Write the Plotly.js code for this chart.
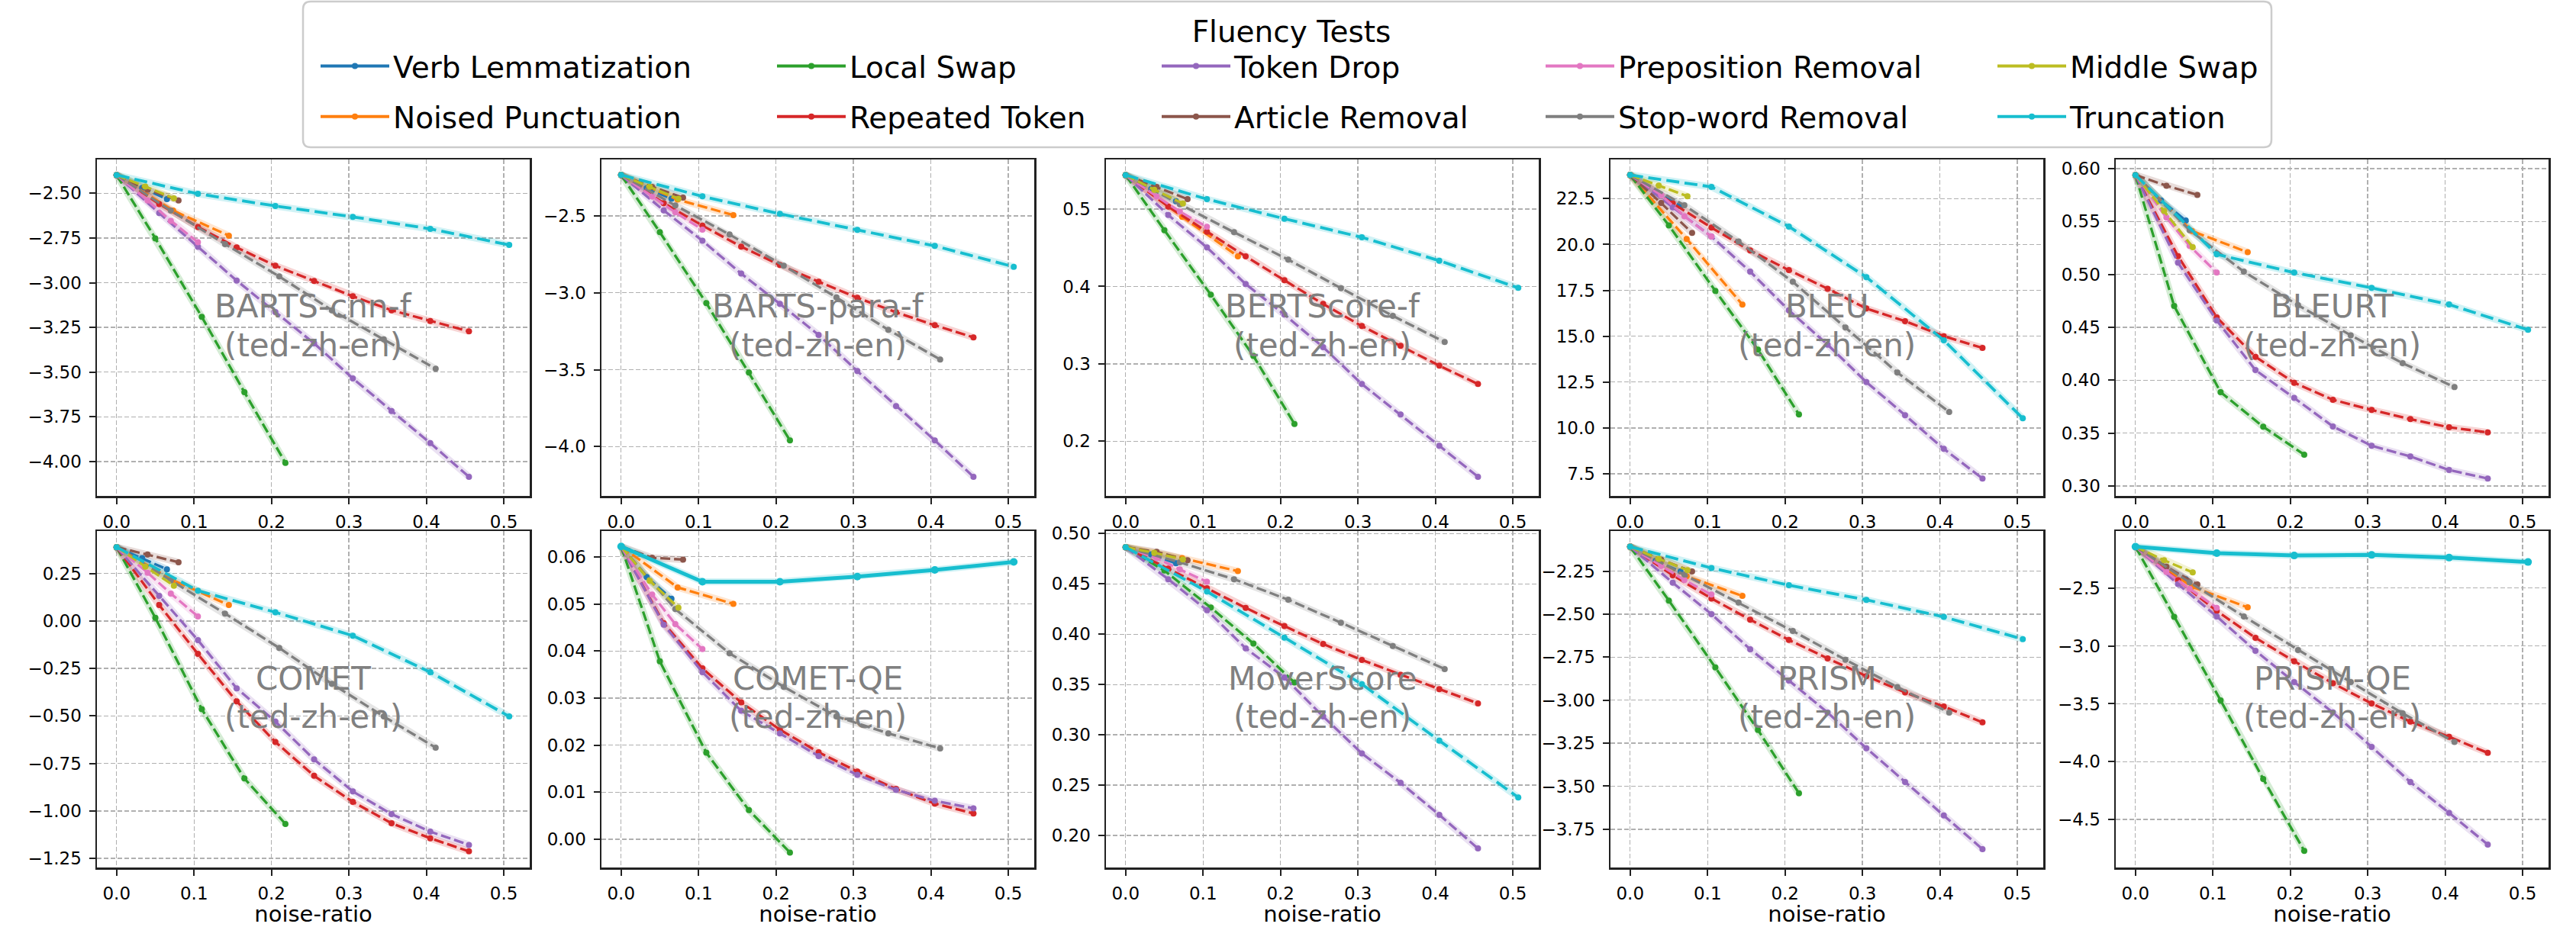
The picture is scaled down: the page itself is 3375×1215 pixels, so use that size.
<!DOCTYPE html>
<html>
<head>
<meta charset="utf-8">
<script src="https://cdn.plot.ly/plotly-3.0.1.min.js"></script>
<style>
html, body { margin: 0; padding: 0; background: #ffffff; }
#chart { width: 3375px; height: 1215px; }
</style>
</head>
<body>
<div id="chart"></div>
<script>
// ---------------- DATA ----------------
const metrics = ['BARTS-cnn-f', 'BARTS-para-f', 'BERTScore-f', 'BLEU', 'BLEURT',
                 'COMET', 'COMET-QE', 'MoverScore', 'PRISM', 'PRISM-QE'];
const datasetLabel = '(ted-zh-en)';
const legendTitle = 'Fluency Tests';
const xAxisLabel = 'noise-ratio';

// noise ratios per test
const xVerbLemmatization = [0, 0.033, 0.065];
const xNoisedPunctuation = [0, 0.073, 0.145];
const xLocalSwap = [0, 0.05, 0.11, 0.165, 0.218];
const xRepeatedToken = [0, 0.055, 0.105, 0.155, 0.205, 0.255, 0.305, 0.355, 0.405, 0.455];
const xTokenDrop = [0, 0.055, 0.105, 0.155, 0.205, 0.255, 0.305, 0.355, 0.405, 0.455];
const xArticleRemoval = [0, 0.04, 0.08];
const xPrepositionRemoval = [0, 0.04, 0.07, 0.105];
const xStopwordRemoval = [0, 0.07, 0.14, 0.21, 0.278, 0.345, 0.412];
const xMiddleSwap = [0, 0.037, 0.074];
const xTruncation = [0, 0.105, 0.205, 0.305, 0.405, 0.507];

// scores: one row per metric (same order as `metrics`)
const yVerbLemmatization = [
  [-2.398, -2.47, -2.533],
  [-2.234, -2.32, -2.389],
  [0.544, 0.526, 0.510],
  [23.79, 22.85, 22.10],
  [0.594, 0.570, 0.551],
  [0.3885, 0.331, 0.272],
  [0.0622, 0.0557, 0.0511],
  [0.4865, 0.4793, 0.4705],
  [-2.108, -2.19, -2.252],
  [-2.142, -2.30, -2.424]
];
const yNoisedPunctuation = [
  [-2.398, -2.597, -2.737],
  [-2.234, -2.394, -2.495],
  [0.544, 0.490, 0.439],
  [23.79, 20.30, 16.72],
  [0.594, 0.541, 0.521],
  [0.3885, 0.214, 0.084],
  [0.0622, 0.0535, 0.0500],
  [0.4865, 0.4757, 0.4627],
  [-2.108, -2.28, -2.394],
  [-2.142, -2.489, -2.667]
];
const yLocalSwap = [
  [-2.398, -2.752, -3.191, -3.612, -4.007],
  [-2.234, -2.606, -3.067, -3.519, -3.960],
  [0.544, 0.4727, 0.3893, 0.3101, 0.2223],
  [23.79, 21.04, 17.47, 14.27, 10.73],
  [0.594, 0.4702, 0.3887, 0.3560, 0.3296],
  [0.3885, 0.0169, -0.4644, -0.829, -1.069],
  [0.0622, 0.0378, 0.0184, 0.0062, -0.0028],
  [0.4865, 0.4633, 0.4265, 0.3908, 0.352],
  [-2.108, -2.421, -2.810, -3.173, -3.541],
  [-2.142, -2.748, -3.470, -4.149, -4.770]
];
const yRepeatedToken = [
  [-2.398, -2.560, -2.688, -2.803, -2.905, -2.990, -3.076, -3.154, -3.214, -3.272],
  [-2.234, -2.417, -2.563, -2.700, -2.819, -2.928, -3.032, -3.127, -3.211, -3.290],
  [0.544, 0.5033, 0.4708, 0.4389, 0.4080, 0.3774, 0.3488, 0.3232, 0.2976, 0.2739],
  [23.79, 22.24, 20.92, 19.67, 18.60, 17.59, 16.51, 15.82, 15.00, 14.36],
  [0.594, 0.5173, 0.4594, 0.4221, 0.3976, 0.3815, 0.3719, 0.3632, 0.3555, 0.3507],
  [0.3885, 0.0841, -0.1737, -0.4233, -0.6372, -0.8154, -0.9525, -1.065, -1.144, -1.213],
  [0.0622, 0.0459, 0.0363, 0.0291, 0.0233, 0.0185, 0.0144, 0.0107, 0.0076, 0.0055],
  [0.4865, 0.4653, 0.4457, 0.4262, 0.4081, 0.3903, 0.3745, 0.3597, 0.3455, 0.3313],
  [-2.108, -2.274, -2.409, -2.532, -2.650, -2.757, -2.860, -2.955, -3.037, -3.129],
  [-2.142, -2.433, -2.698, -2.930, -3.132, -3.323, -3.497, -3.654, -3.785, -3.924]
];
const yTokenDrop = [
  [-2.398, -2.611, -2.799, -2.988, -3.164, -3.339, -3.535, -3.718, -3.897, -4.085],
  [-2.234, -2.464, -2.662, -2.875, -3.072, -3.274, -3.509, -3.737, -3.960, -4.197],
  [0.544, 0.4924, 0.4504, 0.4031, 0.3636, 0.3216, 0.2739, 0.2345, 0.1941, 0.1540],
  [23.79, 22.03, 20.43, 18.52, 16.41, 14.54, 12.50, 10.69, 8.86, 7.24],
  [0.594, 0.5111, 0.4565, 0.4096, 0.3832, 0.3563, 0.3380, 0.3279, 0.3151, 0.3070],
  [0.3885, 0.1321, -0.101, -0.3547, -0.530, -0.729, -0.8977, -1.017, -1.109, -1.179],
  [0.0622, 0.0456, 0.0355, 0.0273, 0.0225, 0.0177, 0.0137, 0.0105, 0.0082, 0.0066],
  [0.4865, 0.4547, 0.4239, 0.3861, 0.3571, 0.3183, 0.2816, 0.2523, 0.2205, 0.1871],
  [-2.108, -2.317, -2.500, -2.704, -2.886, -3.072, -3.279, -3.476, -3.670, -3.866],
  [-2.142, -2.466, -2.745, -3.042, -3.312, -3.575, -3.872, -4.176, -4.442, -4.716]
];
const yArticleRemoval = [
  [-2.398, -2.479, -2.540],
  [-2.234, -2.311, -2.381],
  [0.544, 0.5286, 0.5128],
  [23.79, 22.26, 20.63],
  [0.594, 0.5839, 0.5752],
  [0.3885, 0.350, 0.309],
  [0.0622, 0.0598, 0.0594],
  [0.4865, 0.4819, 0.4736],
  [-2.108, -2.183, -2.252],
  [-2.142, -2.316, -2.469]
];
const yPrepositionRemoval = [
  [-2.398, -2.540, -2.654, -2.774],
  [-2.234, -2.374, -2.477, -2.589],
  [0.544, 0.5164, 0.4967, 0.4770],
  [23.79, 22.69, 21.54, 20.43],
  [0.594, 0.5538, 0.527, 0.5017],
  [0.3885, 0.254, 0.144, 0.0237],
  [0.0622, 0.0520, 0.0457, 0.0404],
  [0.4865, 0.4757, 0.4645, 0.4521],
  [-2.108, -2.220, -2.302, -2.386],
  [-2.142, -2.361, -2.507, -2.671]
];
const yStopwordRemoval = [
  [-2.398, -2.597, -2.784, -2.965, -3.154, -3.317, -3.481],
  [-2.234, -2.432, -2.621, -2.824, -3.03, -3.241, -3.434],
  [0.544, 0.5062, 0.4701, 0.4346, 0.3978, 0.3620, 0.3281],
  [23.79, 22.14, 20.16, 17.97, 15.47, 13.02, 10.87],
  [0.594, 0.5418, 0.5026, 0.4709, 0.4425, 0.4161, 0.3935],
  [0.3885, 0.213, 0.0388, -0.142, -0.331, -0.503, -0.667],
  [0.0622, 0.0489, 0.0395, 0.0324, 0.0261, 0.0225, 0.0193],
  [0.4865, 0.4715, 0.4547, 0.4343, 0.4115, 0.3882, 0.3654],
  [-2.108, -2.270, -2.433, -2.598, -2.765, -2.924, -3.072],
  [-2.142, -2.451, -2.745, -3.035, -3.312, -3.582, -3.830]
];
const yMiddleSwap = [
  [-2.398, -2.462, -2.528],
  [-2.234, -2.31, -2.389],
  [0.544, 0.525, 0.5072],
  [23.79, 23.21, 22.63],
  [0.594, 0.560, 0.5257],
  [0.3885, 0.286, 0.1856],
  [0.0622, 0.0549, 0.0492],
  [0.4865, 0.481, 0.4744],
  [-2.108, -2.179, -2.244],
  [-2.142, -2.26, -2.365]
];
const yTruncation = [
  [-2.398, -2.503, -2.571, -2.632, -2.699, -2.789],
  [-2.234, -2.373, -2.487, -2.591, -2.695, -2.831],
  [0.544, 0.5128, 0.4875, 0.4635, 0.4333, 0.3981],
  [23.79, 23.14, 20.98, 18.22, 14.78, 10.52],
  [0.594, 0.5190, 0.5017, 0.4873, 0.4716, 0.4476],
  [0.3885, 0.1595, 0.0457, -0.0777, -0.2697, -0.5028],
  [0.0622, 0.0547, 0.0547, 0.0558, 0.0572, 0.0589],
  [0.4865, 0.4425, 0.3967, 0.3504, 0.2943, 0.2378],
  [-2.108, -2.232, -2.332, -2.417, -2.516, -2.645],
  [-2.142, -2.199, -2.219, -2.214, -2.237, -2.275]
];

// ---------------- STYLE / LAYOUT ----------------
const FONT = 'DejaVu Sans, Liberation Sans, sans-serif';
const W = 3375, H = 1215;
const ML = 120, MR = 20, MT = 0, MB = 0;
const PW = W - ML - MR, PH = H - MT - MB;
const fx = px => (px - ML) / PW;
const fy = py => 1 - (py - MT) / PH;

const panelLeft = [127, 788, 1449, 2110, 2772];
const panelWidth = 567;
const panelTop = [209, 696];
const panelHeight = 441;

const xRange = [-0.0254, 0.5334];
const yRanges = [
  [-4.192, -2.311], [-4.321, -2.133], [0.1293, 0.5641], [6.293, 24.635], [0.2906, 0.6087],
  [-1.298, 0.4735], [-0.00597, 0.06547], [0.1682, 0.5026], [-3.9724, -2.0169], [-4.914, -2.0073]
];
const yDticks = [0.25, 0.5, 0.1, 2.5, 0.05, 0.25, 0.01, 0.05, 0.25, 0.5];
const yFormats = ['.2f', '.1f', '.1f', '.1f', '.2f', '.2f', '.2f', '.2f', '.2f', '.1f'];
const solidTruncationMetrics = ['COMET-QE', 'PRISM-QE'];

const series = [
  {name: 'Verb Lemmatization', color: '#1f77b4', rgb: '31,119,180', x: xVerbLemmatization, y: yVerbLemmatization, legend: 'legend', lw: 493},
  {name: 'Noised Punctuation', color: '#ff7f0e', rgb: '255,127,14', x: xNoisedPunctuation, y: yNoisedPunctuation, legend: 'legend2', lw: 493},
  {name: 'Local Swap', color: '#2ca02c', rgb: '44,160,44', x: xLocalSwap, y: yLocalSwap, legend: 'legend', lw: 399},
  {name: 'Repeated Token', color: '#d62728', rgb: '214,39,40', x: xRepeatedToken, y: yRepeatedToken, legend: 'legend2', lw: 399},
  {name: 'Token Drop', color: '#9467bd', rgb: '148,103,189', x: xTokenDrop, y: yTokenDrop, legend: 'legend', lw: 398},
  {name: 'Article Removal', color: '#8c564b', rgb: '140,86,75', x: xArticleRemoval, y: yArticleRemoval, legend: 'legend2', lw: 398},
  {name: 'Preposition Removal', color: '#e377c2', rgb: '227,119,194', x: xPrepositionRemoval, y: yPrepositionRemoval, legend: 'legend', lw: 487},
  {name: 'Stop-word Removal', color: '#7f7f7f', rgb: '127,127,127', x: xStopwordRemoval, y: yStopwordRemoval, legend: 'legend2', lw: 487},
  {name: 'Middle Swap', color: '#bcbd22', rgb: '188,189,34', x: xMiddleSwap, y: yMiddleSwap, legend: 'legend', lw: 252},
  {name: 'Truncation', color: '#17becf', rgb: '23,190,207', x: xTruncation, y: yTruncation, legend: 'legend2', lw: 252}
];
const legendRow1 = ['Verb Lemmatization', 'Local Swap', 'Token Drop', 'Preposition Removal', 'Middle Swap'];
const legendRow2 = ['Noised Punctuation', 'Repeated Token', 'Article Removal', 'Stop-word Removal', 'Truncation'];

const traces = [];
metrics.forEach((m, i) => {
  const sfx = i === 0 ? '' : String(i + 1);
  // light translucent halo (uncertainty band look) under each line
  series.forEach(s => {
    traces.push({
      type: 'scatter', mode: 'lines', x: s.x, y: s.y[i],
      xaxis: 'x' + sfx, yaxis: 'y' + sfx, showlegend: false, hoverinfo: 'skip',
      line: {color: 'rgba(' + s.rgb + ',0.2)', width: 9}
    });
  });
  series.forEach(s => {
    const isTrunc = s.name === 'Truncation';
    const solid = isTrunc && solidTruncationMetrics.includes(m);
    traces.push({
      type: 'scatter', mode: 'lines+markers',
      x: s.x, y: s.y[i],
      xaxis: 'x' + sfx, yaxis: 'y' + sfx,
      name: s.name, showlegend: false, hoverinfo: 'skip',
      line: {color: s.color, width: solid ? 5 : (isTrunc ? 3.8 : 3.3),
             dash: solid ? 'solid' : (isTrunc ? '17px,7px' : '13px,5px')},
      marker: {color: s.color, size: solid ? 10 : 8}
    });
  });
});

// legend entries (solid handles as in the reference legend)
[legendRow1, legendRow2].forEach(row => {
  row.forEach(nm => {
    const s = series.find(q => q.name === nm);
    traces.push({
      type: 'scatter', mode: 'lines+markers', x: [null], y: [null],
      name: s.name, legend: s.legend, legendwidth: s.lw, showlegend: true,
      line: {color: s.color, width: 4}, marker: {color: s.color, size: 8},
      hoverinfo: 'skip'
    });
  });
});

const axisCommon = {
  showline: true, mirror: true, linecolor: '#222222', linewidth: 2.5,
  ticks: 'outside', ticklen: 8, tickwidth: 2, tickcolor: '#222222',
  showgrid: true, gridcolor: '#b0b0b0', gridwidth: 1.4, griddash: '6px,3px',
  zeroline: false, tickfont: {family: FONT, size: 23, color: '#000000'},
  fixedrange: true
};

const layout = {
  width: W, height: H,
  margin: {l: ML, r: MR, t: MT, b: MB, pad: 0},
  paper_bgcolor: '#ffffff', plot_bgcolor: '#ffffff',
  font: {family: FONT, color: '#000000'},
  showlegend: true,
  annotations: [], shapes: []
};

metrics.forEach((m, i) => {
  const row = Math.floor(i / 5), col = i % 5;
  const sfx = i === 0 ? '' : String(i + 1);
  const L = panelLeft[col], T = panelTop[row];
  layout['xaxis' + sfx] = Object.assign({}, axisCommon, {
    domain: [fx(L), fx(L + panelWidth)], range: xRange, anchor: 'y' + sfx,
    tick0: 0, dtick: 0.1, tickformat: '.1f', ticklabelstandoff: 4,
    title: row === 1 ? {text: xAxisLabel, font: {family: FONT, size: 29, color: '#000000'}, standoff: 0} : {text: ''}
  });
  layout['yaxis' + sfx] = Object.assign({}, axisCommon, {
    domain: [fy(T + panelHeight), fy(T)], range: yRanges[i], anchor: 'x' + sfx,
    tick0: 0, dtick: yDticks[i], tickformat: yFormats[i], ticklabelstandoff: 5
  });
  const cx = fx(L + panelWidth / 2);
  layout.annotations.push({
    xref: 'paper', yref: 'paper', x: cx, y: fy(T + 193), xanchor: 'center', yanchor: 'middle',
    text: m, showarrow: false, font: {family: FONT, size: 42, color: '#808080'}
  });
  layout.annotations.push({
    xref: 'paper', yref: 'paper', x: cx, y: fy(T + 243), xanchor: 'center', yanchor: 'middle',
    text: datasetLabel, showarrow: false, font: {family: FONT, size: 42, color: '#808080'}
  });
});

// legend frame (rounded box)
(function () {
  const x0 = 397, x1 = 2976, y0 = 2, y1 = 193, r = 10;
  const P = (px, py) => fx(px).toFixed(6) + ',' + fy(py).toFixed(6);
  const path = 'M' + P(x0 + r, y0) + ' L' + P(x1 - r, y0) + ' Q' + P(x1, y0) + ' ' + P(x1, y0 + r) +
    ' L' + P(x1, y1 - r) + ' Q' + P(x1, y1) + ' ' + P(x1 - r, y1) +
    ' L' + P(x0 + r, y1) + ' Q' + P(x0, y1) + ' ' + P(x0, y1 - r) +
    ' L' + P(x0, y0 + r) + ' Q' + P(x0, y0) + ' ' + P(x0 + r, y0) + ' Z';
  layout.shapes.push({type: 'path', xref: 'paper', yref: 'paper', path: path,
    line: {color: '#cccccc', width: 2.5}, fillcolor: 'rgba(255,255,255,0.8)', layer: 'below'});
})();

const legendCommon = {
  orientation: 'h', xanchor: 'left', yanchor: 'top', itemwidth: 90,
  font: {family: FONT, size: 39, color: '#000000'},
  bgcolor: 'rgba(0,0,0,0)', borderwidth: 0, traceorder: 'normal',
  itemclick: false, itemdoubleclick: false
};
layout.legend = Object.assign({}, legendCommon, {
  x: fx(415), y: fy(4),
  title: {text: legendTitle, side: 'top center', font: {family: FONT, size: 39, color: '#000000'}}
});
layout.legend2 = Object.assign({}, legendCommon, {x: fx(415), y: fy(121)});

Plotly.newPlot('chart', traces, layout, {staticPlot: true, displayModeBar: false});
</script>
</body>
</html>
